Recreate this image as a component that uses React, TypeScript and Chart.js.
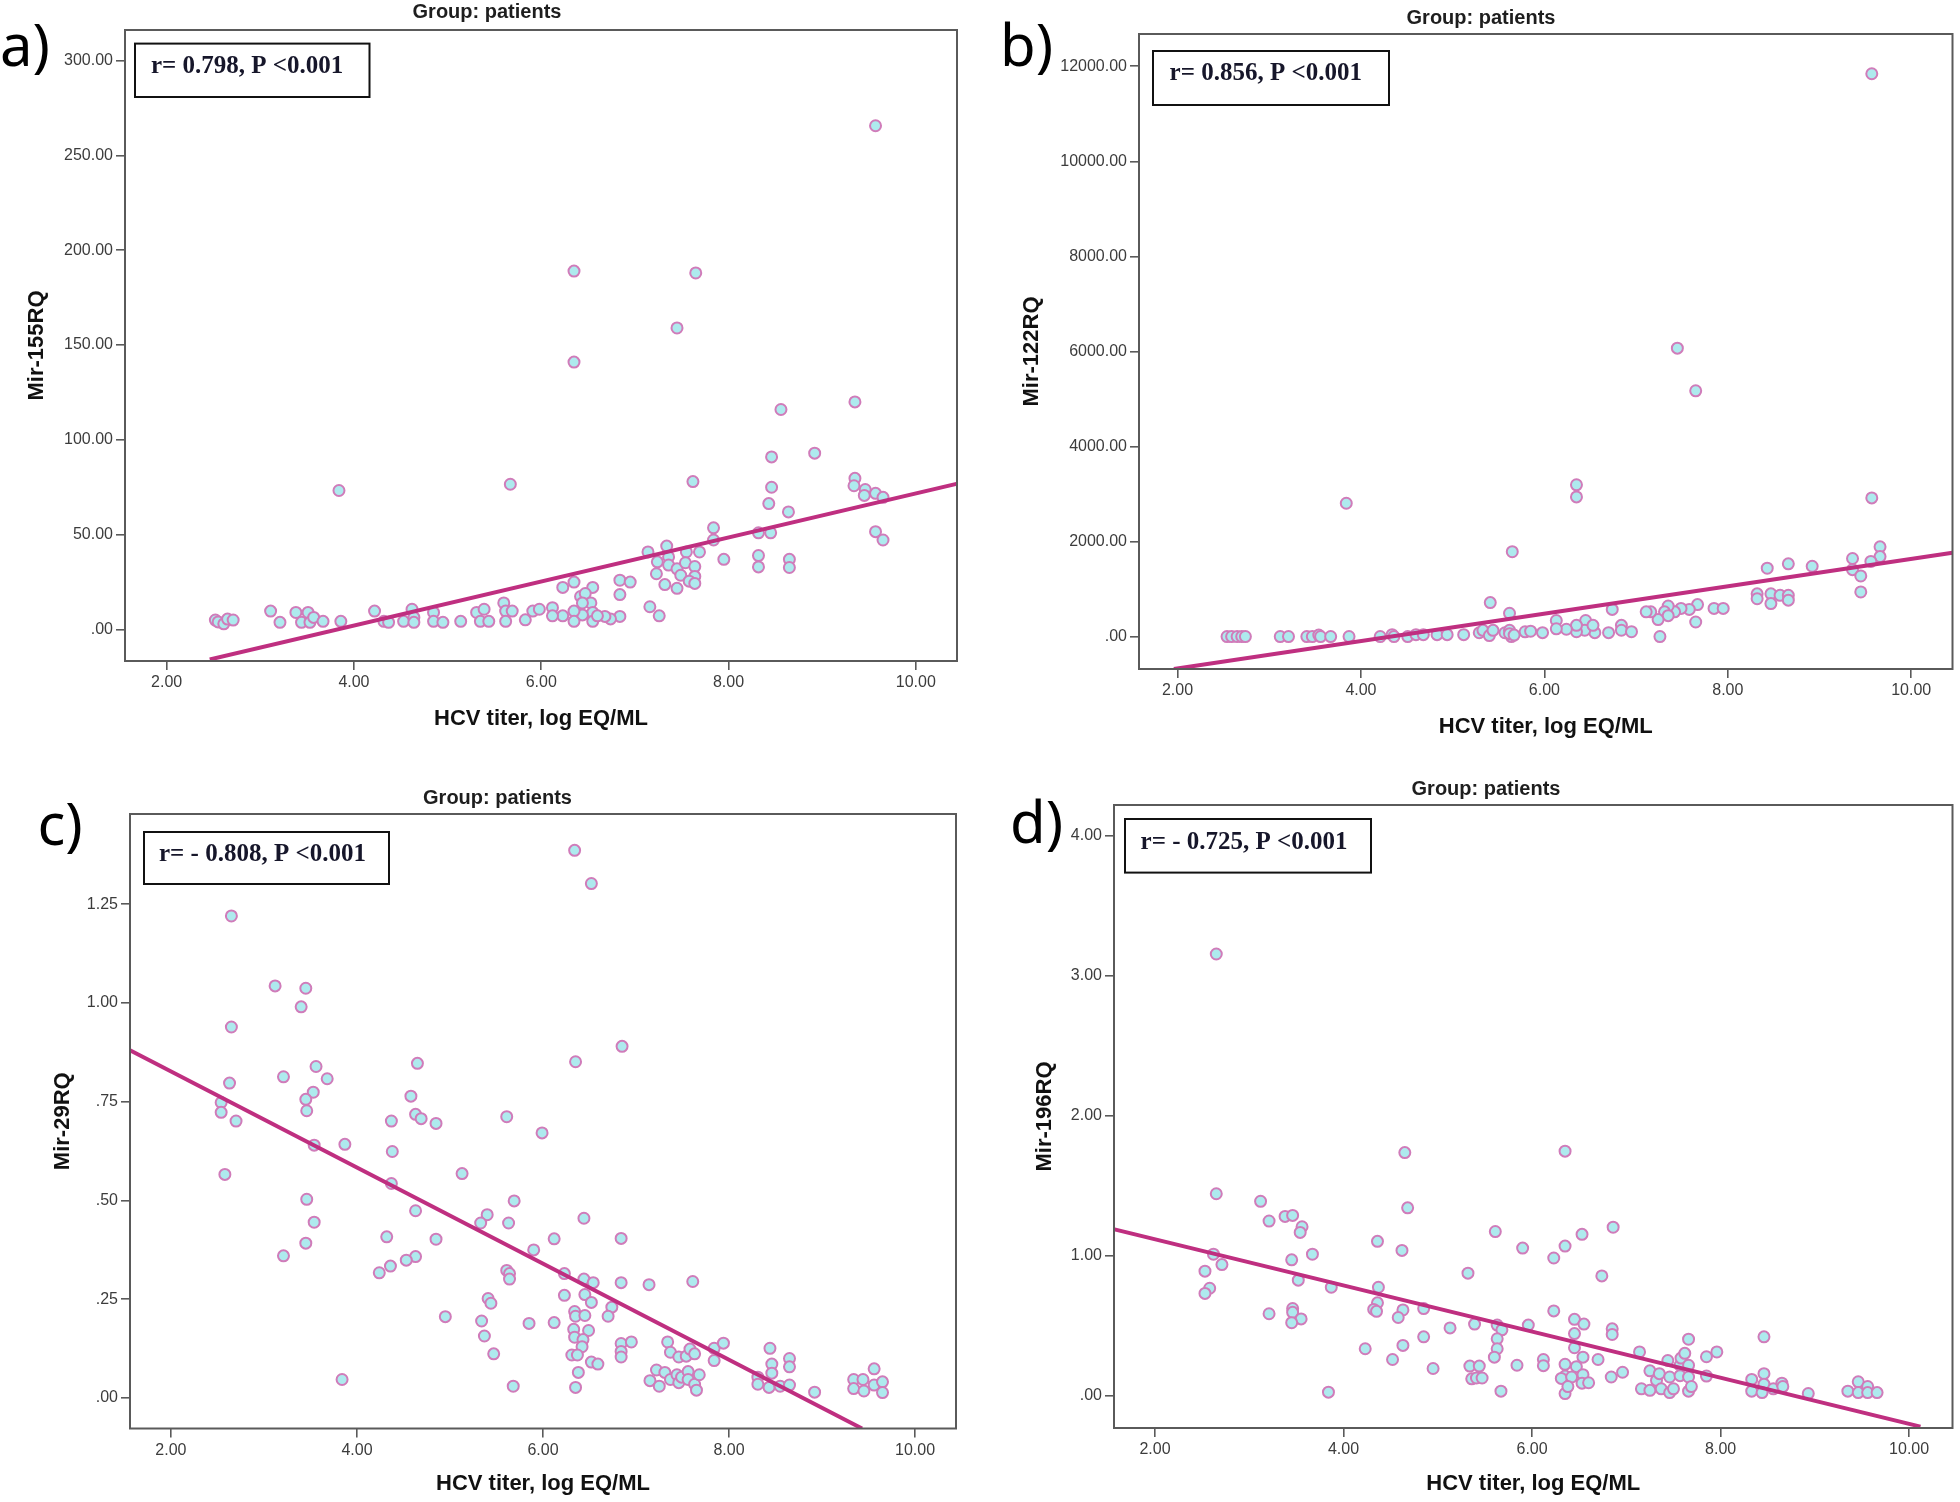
import React, { useEffect, useRef } from 'react';
import { Chart, registerables } from 'chart.js';

Chart.register(...registerables);
Chart.defaults.font.family = '"Liberation Sans", Arial, sans-serif';

// ---------- data ----------
const xTickValues = [2, 4, 6, 8, 10];
const yTicksA = [0, 50, 100, 150, 200, 250, 300];
const yTicksB = [0, 2000, 4000, 6000, 8000, 10000, 12000];
const yTicksC = [0, 0.25, 0.5, 0.75, 1.0, 1.25];
const yTicksD = [0, 1, 2, 3, 4];

const xTitle = 'HCV titer, log EQ/ML';
const groupTitle = 'Group: patients';
const panelLabels = ['a)', 'b)', 'c)', 'd)'];
const yTitles = ['Mir-155RQ', 'Mir-122RQ', 'Mir-29RQ', 'Mir-196RQ'];
const statTexts = ['r= 0.798, P <0.001', 'r= 0.856, P <0.001', 'r= - 0.808, P <0.001', 'r= - 0.725, P <0.001'];

// [HCV titer, Mir-155RQ]
const mir155Points: [number, number][] = [
  [3.84, 73.3], [5.67, 76.6], [2.52, 5], [2.55, 4], [2.61, 3], [2.65, 5.5], [2.71, 5],
  [3.11, 9.7], [3.21, 3.8], [3.38, 9], [3.44, 3.8], [3.51, 9], [3.53, 3.8], [3.57, 6.4],
  [3.67, 4.3], [3.86, 4.3], [4.22, 9.7], [4.32, 4.3], [4.37, 3.8], [4.53, 4.3], [4.62, 10.7],
  [4.64, 6.4], [4.64, 3.8], [4.85, 9], [4.85, 4.3], [4.95, 3.8], [5.14, 4.3], [5.31, 9],
  [5.39, 10.7], [5.35, 4.3], [5.44, 4.3], [5.6, 14], [5.62, 9.7], [5.69, 9.7], [5.62, 4.3],
  [5.83, 5.1], [5.91, 9.7], [5.98, 10.7],
  [9.57, 265.6], [6.35, 189], [7.65, 188], [7.45, 159], [6.35, 141], [9.35, 120], [8.56, 116],
  [8.92, 93], [8.46, 91], [7.62, 78], [8.46, 75], [9.35, 79.7], [9.34, 75.8], [9.46, 73.8],
  [9.45, 70.7], [9.57, 71.8], [9.65, 69.7], [8.43, 66.4], [8.64, 62], [9.57, 51.6], [9.65, 47.2],
  [7.84, 53.6], [7.84, 47.2], [8.32, 51], [8.45, 51], [8.32, 39], [8.32, 33], [8.65, 37],
  [8.65, 32.7], [7.95, 37], [7.14, 40.9], [7.34, 44], [7.55, 40.9], [7.69, 40.9], [7.24, 35.7],
  [7.36, 38.3], [7.36, 34], [7.45, 32], [7.54, 35.2], [7.64, 33.2], [7.64, 28], [7.49, 28.6],
  [7.58, 25.5], [7.64, 24.3], [7.23, 29.4], [7.32, 23.7], [7.45, 21.7], [7.16, 12], [7.26, 7.2],
  [6.84, 26], [6.95, 25], [6.84, 18.4], [6.84, 6.9], [6.74, 5.6], [6.68, 6.9], [6.35, 25],
  [6.23, 22.2], [6.55, 22.2], [6.42, 17.4], [6.47, 19], [6.53, 14], [6.44, 14], [6.55, 9],
  [6.44, 7.7], [6.35, 9.7], [6.35, 4.3], [6.55, 4.3], [6.23, 7.2], [6.12, 11.5], [6.12, 7.2],
  [6.6, 7.2]
];

// [HCV titer, Mir-122RQ]
const mir122Points: [number, number][] = [
  [3.84, 2805], [5.65, 1785], [5.41, 714], [5.62, 490],
  [2.54, 0], [2.59, 0], [2.65, 0], [2.7, 0], [2.74, 0], [3.12, 0], [3.21, 0], [3.41, 0],
  [3.47, 0], [3.54, 30], [3.56, 0], [3.67, 0], [3.87, 0], [4.21, 0], [4.34, 40], [4.36, 0],
  [4.51, 0], [4.6, 40], [4.68, 40], [4.83, 40], [4.94, 40], [5.12, 40], [5.29, 80], [5.33, 130],
  [5.4, 20], [5.44, 130], [5.57, 80], [5.62, 130], [5.64, 0], [5.79, 100], [5.62, 60], [5.67, 30],
  [9.57, 11842], [7.45, 6069], [7.65, 5171], [6.35, 3193], [6.35, 2938], [9.57, 2917],
  [9.66, 1887], [9.66, 1683], [9.56, 1581], [9.36, 1642], [9.36, 1408], [9.45, 1275],
  [9.45, 938], [8.92, 1479], [8.66, 1530], [8.43, 1438], [8.32, 898], [8.32, 796], [8.47, 898],
  [8.47, 694], [8.57, 867], [8.66, 867], [8.66, 765], [7.85, 592], [7.95, 592], [7.67, 673],
  [7.58, 571], [7.49, 592], [7.42, 520], [7.35, 643], [7.31, 520], [7.35, 439], [7.24, 357],
  [7.16, 520], [7.11, 520], [7.65, 306], [7.26, 0], [6.74, 571], [6.84, 235], [6.84, 133],
  [6.95, 102], [6.7, 82], [6.55, 82], [6.45, 337], [6.44, 133], [6.35, 102], [6.35, 235],
  [6.24, 153], [6.13, 337], [6.13, 163], [5.98, 82], [5.85, 112], [6.53, 235]
];

// [HCV titer, Mir-29RQ]
const mir29Points: [number, number][] = [
  [2.65, 1.22], [3.12, 1.043], [3.45, 1.037], [3.4, 0.99], [2.65, 0.939], [4.65, 0.847],
  [3.56, 0.839], [3.21, 0.813], [3.68, 0.808], [2.63, 0.797], [3.53, 0.774], [4.58, 0.764],
  [3.45, 0.756], [2.54, 0.748], [3.46, 0.727], [2.54, 0.723], [4.63, 0.718], [4.69, 0.707],
  [4.37, 0.701], [2.7, 0.701], [4.85, 0.695], [5.61, 0.712], [5.99, 0.671], [3.54, 0.64],
  [3.87, 0.642], [4.38, 0.624], [2.58, 0.566], [5.13, 0.568], [4.37, 0.543], [3.46, 0.503],
  [5.69, 0.499], [4.63, 0.474], [5.4, 0.464], [3.54, 0.445], [5.33, 0.443], [5.63, 0.443],
  [4.32, 0.408], [4.85, 0.402], [6.12, 0.403], [5.9, 0.375], [3.45, 0.392], [3.21, 0.36],
  [4.63, 0.358], [4.53, 0.349], [4.36, 0.334], [4.24, 0.317], [5.61, 0.323], [5.64, 0.315],
  [5.64, 0.301], [5.41, 0.252], [5.44, 0.24], [4.95, 0.206], [5.34, 0.195], [5.85, 0.189],
  [6.12, 0.191], [5.37, 0.157], [5.47, 0.112], [3.84, 0.047], [5.68, 0.03],
  [6.34, 1.386], [6.52, 1.302], [6.85, 0.89], [6.35, 0.851], [6.44, 0.455], [6.84, 0.404],
  [6.23, 0.315], [6.44, 0.301], [6.54, 0.292], [6.84, 0.292], [7.14, 0.287], [7.61, 0.295],
  [6.23, 0.26], [6.45, 0.262], [6.52, 0.242], [6.74, 0.23], [6.7, 0.207], [6.34, 0.219],
  [6.35, 0.207], [6.45, 0.209], [6.33, 0.174], [6.49, 0.171], [6.34, 0.154], [6.43, 0.148],
  [6.42, 0.13], [6.31, 0.109], [6.37, 0.109], [6.52, 0.091], [6.59, 0.086], [6.38, 0.065],
  [6.35, 0.027], [6.84, 0.138], [6.84, 0.118], [6.84, 0.104], [6.95, 0.142], [7.34, 0.142],
  [7.37, 0.116], [7.46, 0.104], [7.54, 0.106], [7.58, 0.124], [7.63, 0.112], [7.84, 0.126],
  [7.84, 0.095], [7.94, 0.139], [7.22, 0.071], [7.15, 0.044], [7.25, 0.03], [7.31, 0.065],
  [7.37, 0.047], [7.44, 0.059], [7.46, 0.039], [7.49, 0.053], [7.56, 0.067], [7.56, 0.047],
  [7.63, 0.035], [7.65, 0.02], [7.68, 0.059], [8.44, 0.126], [8.46, 0.086], [8.46, 0.063],
  [8.65, 0.1], [8.65, 0.079], [8.31, 0.053], [8.31, 0.035], [8.43, 0.027], [8.55, 0.03],
  [8.65, 0.033], [8.92, 0.015], [9.34, 0.047], [9.34, 0.024], [9.44, 0.047], [9.45, 0.018],
  [9.56, 0.074], [9.56, 0.033], [9.65, 0.041], [9.65, 0.014]
];

// [HCV titer, Mir-196RQ]
const mir196Points: [number, number][] = [
  [2.65, 3.156], [4.65, 1.738], [2.65, 1.444], [3.12, 1.39], [4.68, 1.343], [3.21, 1.249],
  [3.38, 1.282], [3.46, 1.289], [3.56, 1.208], [3.54, 1.168], [5.61, 1.174], [5.9, 1.056],
  [4.36, 1.104], [4.62, 1.039], [3.67, 1.012], [2.62, 1.012], [3.45, 0.972], [2.71, 0.938],
  [2.53, 0.891], [5.32, 0.877], [3.52, 0.827], [2.58, 0.769], [3.87, 0.776], [4.37, 0.776],
  [2.53, 0.732], [4.36, 0.665], [4.32, 0.618], [4.35, 0.604], [3.46, 0.624], [3.46, 0.597],
  [4.63, 0.614], [4.85, 0.624], [3.21, 0.587], [3.55, 0.55], [4.58, 0.56], [3.45, 0.523],
  [5.39, 0.513], [5.13, 0.486], [5.63, 0.506], [5.68, 0.472], [5.96, 0.506], [4.85, 0.422],
  [5.63, 0.408], [5.63, 0.337], [4.63, 0.361], [4.23, 0.337], [5.6, 0.277], [4.52, 0.26],
  [4.95, 0.196], [5.34, 0.213], [5.44, 0.213], [5.84, 0.219], [5.36, 0.122], [5.41, 0.128],
  [5.47, 0.128], [3.84, 0.027], [5.67, 0.034],
  [6.35, 1.748], [6.86, 1.205], [6.53, 1.154], [6.35, 1.07], [6.23, 0.985], [6.74, 0.857],
  [6.23, 0.607], [6.45, 0.547], [6.55, 0.513], [6.45, 0.445], [6.45, 0.344], [6.85, 0.479],
  [6.85, 0.439], [6.54, 0.277], [6.7, 0.26], [6.12, 0.26], [6.12, 0.216], [6.35, 0.226],
  [6.35, 0.142], [6.31, 0.125], [6.35, 0.017], [6.47, 0.209], [6.42, 0.135], [6.54, 0.152],
  [6.53, 0.091], [6.6, 0.094], [6.38, 0.067], [6.84, 0.135], [6.96, 0.169], [7.14, 0.314],
  [7.25, 0.179], [7.32, 0.111], [7.35, 0.159], [7.16, 0.051], [7.25, 0.04], [7.37, 0.051],
  [7.44, 0.253], [7.46, 0.135], [7.46, 0.024], [7.5, 0.051], [7.57, 0.219], [7.58, 0.27],
  [7.62, 0.304], [7.57, 0.145], [7.66, 0.405], [7.66, 0.219], [7.66, 0.135], [7.66, 0.034],
  [7.69, 0.067], [7.85, 0.28], [7.96, 0.314], [7.85, 0.142], [8.46, 0.422], [8.46, 0.159],
  [8.46, 0.084], [8.33, 0.118], [8.33, 0.034], [8.44, 0.024], [8.56, 0.051], [8.65, 0.091],
  [8.66, 0.067], [8.93, 0.017], [9.35, 0.034], [9.46, 0.101], [9.46, 0.024], [9.56, 0.067],
  [9.56, 0.024], [9.66, 0.024]
];

// fit line end points [x, y]
const fitLineA: [number, number][] = [[2.46, -15.8], [10.45, 77.0]];
const fitLineB: [number, number][] = [[1.96, -683], [10.45, 1765]];
const fitLineC: [number, number][] = [[1.56, 0.88], [9.43, -0.077]];
const fitLineD: [number, number][] = [[1.56, 1.191], [10.12, -0.219]];

// ---------- styles ----------
const POINT_FILL = '#aeeaee';
const POINT_EDGE = '#d07cba';
const LINE_COLOR = '#bf2f80';
const AXIS_COLOR = '#5a5a5a';
const TICK_TEXT = '#3c3c3c';

const fmt = (v: number) => v.toFixed(2).replace(/^0\./, '.');

type Panel = {
  left: number; top: number; w: number; h: number;
  padTop: number; padRight: number; yAxisW: number; xAxisH: number;
  xMin: number; xMax: number; yMin: number; yMax: number;
  yTicks: number[]; points: [number, number][]; line: [number, number][];
  yTitle: string; yTitlePad: number; xTitlePad: number;
  label: string; labelX: number; labelY: number;
  titleX: number; titleY: number;
  box: [number, number, number, number]; stat: string; statX: number; statY: number;
};

const panels: Panel[] = [
  {
    left: 0, top: 0, w: 980, h: 750, padTop: 30, padRight: 23, yAxisW: 125, xAxisH: 89,
    xMin: 1.555, xMax: 10.44, yMin: -16.6, yMax: 316.1, yTicks: yTicksA,
    points: mir155Points, line: fitLineA, yTitle: yTitles[0], yTitlePad: 23.8, xTitlePad: 17.8,
    label: panelLabels[0], labelX: 0, labelY: 65.5, titleX: 487, titleY: 12,
    box: [135, 43.6, 234.5, 53.4], stat: statTexts[0], statX: 151, statY: 73
  },
  {
    left: 980, top: 0, w: 980, h: 750, padTop: 34, padRight: 6, yAxisW: 159, xAxisH: 81,
    xMin: 1.58, xMax: 10.45, yMin: -683, yMax: 12679, yTicks: yTicksB,
    points: mir122Points, line: fitLineB, yTitle: yTitles[1], yTitlePad: 38.8, xTitlePad: 9.8,
    label: panelLabels[1], labelX: 20, labelY: 65.5, titleX: 501, titleY: 18,
    box: [173, 51, 236, 54], stat: statTexts[1], statX: 189.6, statY: 80
  },
  {
    left: 0, top: 750, w: 980, h: 752, padTop: 64, padRight: 24, yAxisW: 130, xAxisH: 73.5,
    xMin: 1.56, xMax: 10.44, yMin: -0.077, yMax: 1.478, yTicks: yTicksC,
    points: mir29Points, line: fitLineC, yTitle: yTitles[2], yTitlePad: 49.3, xTitlePad: 4.8,
    label: panelLabels[2], labelX: 37.5, labelY: 95, titleX: 497.5, titleY: 48,
    box: [144, 82, 245, 52], stat: statTexts[2], statX: 159, statY: 111
  },
  {
    left: 980, top: 750, w: 980, h: 752, padTop: 55, padRight: 6, yAxisW: 134, xAxisH: 74,
    xMin: 1.565, xMax: 10.46, yMin: -0.229, yMax: 4.22, yTicks: yTicksD,
    points: mir196Points, line: fitLineD, yTitle: yTitles[3], yTitlePad: 51.8, xTitlePad: 4.8,
    label: panelLabels[3], labelX: 30, labelY: 92.8, titleX: 506, titleY: 39,
    box: [145, 69, 246, 53.6], stat: statTexts[3], statX: 160.6, statY: 99
  }
];

function extrasPlugin(p: Panel) {
  return {
    id: 'panelExtras',
    afterDraw(chart: any) {
      const ctx = chart.ctx;
      const a = chart.chartArea;
      ctx.save();
      // frame
      ctx.strokeStyle = AXIS_COLOR;
      ctx.lineWidth = 2;
      ctx.strokeRect(a.left, a.top, a.right - a.left, a.bottom - a.top);
      // panel label
      ctx.fillStyle = '#000';
      ctx.textAlign = 'left';
      ctx.textBaseline = 'alphabetic';
      ctx.font = '58px "Noto Sans", "Open Sans", sans-serif';
      ctx.fillText(p.label, p.labelX, p.labelY);
      // group title
      ctx.fillStyle = '#1e1e1e';
      ctx.textAlign = 'center';
      ctx.textBaseline = 'middle';
      ctx.font = 'bold 20px "Liberation Sans", Arial, sans-serif';
      ctx.fillText(groupTitle, p.titleX, p.titleY);
      // stat box
      const [bx, by, bw, bh] = p.box;
      ctx.fillStyle = '#fff';
      ctx.fillRect(bx, by, bw, bh);
      ctx.strokeStyle = '#111';
      ctx.lineWidth = 2;
      ctx.strokeRect(bx, by, bw, bh);
      ctx.fillStyle = '#16162a';
      ctx.textAlign = 'left';
      ctx.textBaseline = 'alphabetic';
      ctx.font = 'bold 25px "Liberation Serif", "Times New Roman", serif';
      ctx.fillText(p.stat, p.statX, p.statY);
      ctx.restore();
    }
  };
}

function ScatterPanel({ p }: { p: Panel }) {
  const ref = useRef<HTMLCanvasElement | null>(null);
  useEffect(() => {
    if (!ref.current) return;
    const chart = new Chart(ref.current, {
      type: 'scatter',
      data: {
        datasets: [
          {
            type: 'line',
            data: p.line.map(([x, y]) => ({ x, y })),
            borderColor: LINE_COLOR,
            borderWidth: 4,
            pointRadius: 0,
            fill: false,
            tension: 0
          } as any,
          {
            type: 'scatter',
            data: p.points.map(([x, y]) => ({ x, y })),
            pointRadius: 5.5,
            pointBackgroundColor: POINT_FILL,
            pointBorderColor: POINT_EDGE,
            pointBorderWidth: 2
          } as any
        ]
      },
      options: {
        responsive: false,
        animation: false,
        devicePixelRatio: 1,
        layout: { padding: { left: 0, top: p.padTop, right: p.padRight, bottom: 0 } },
        plugins: { legend: { display: false }, tooltip: { enabled: false }, title: { display: false } },
        scales: {
          x: {
            type: 'linear',
            position: 'bottom',
            min: p.xMin,
            max: p.xMax,
            afterBuildTicks: (s: any) => { s.ticks = xTickValues.map((v) => ({ value: v })); },
            afterFit: (s: any) => { s.height = p.xAxisH; },
            ticks: {
              callback: (v: any) => fmt(Number(v)),
              color: TICK_TEXT,
              font: { size: 16 },
              padding: 3,
              maxRotation: 0,
              autoSkip: false
            },
            grid: { drawOnChartArea: false, drawTicks: true, tickLength: 9, color: AXIS_COLOR, lineWidth: 1.6 },
            border: { display: false },
            title: {
              display: true,
              text: xTitle,
              color: '#111',
              font: { size: 22, weight: 'bold' },
              padding: { top: p.xTitlePad, bottom: p.xTitlePad }
            }
          },
          y: {
            type: 'linear',
            position: 'left',
            min: p.yMin,
            max: p.yMax,
            afterBuildTicks: (s: any) => { s.ticks = p.yTicks.map((v) => ({ value: v })); },
            afterFit: (s: any) => { s.width = p.yAxisW; },
            ticks: {
              callback: (v: any) => fmt(Number(v)),
              color: TICK_TEXT,
              font: { size: 16 },
              padding: 3,
              autoSkip: false
            },
            grid: { drawOnChartArea: false, drawTicks: true, tickLength: 9, color: AXIS_COLOR, lineWidth: 1.6 },
            border: { display: false },
            title: {
              display: true,
              text: p.yTitle,
              color: '#111',
              font: { size: 22, weight: 'bold' },
              padding: { top: p.yTitlePad, bottom: 0 }
            }
          }
        }
      } as any,
      plugins: [extrasPlugin(p)]
    });
    return () => chart.destroy();
  }, [p]);

  return (
    <div style={{ position: 'absolute', left: p.left, top: p.top, width: p.w, height: p.h }}>
      <canvas ref={ref} width={p.w} height={p.h} style={{ width: p.w, height: p.h, display: 'block' }} />
    </div>
  );
}

export default function App() {
  return (
    <div style={{ position: 'absolute', left: 0, top: 0, width: 1960, height: 1502, background: '#fff', overflow: 'hidden' }}>
      {panels.map((p, i) => (
        <ScatterPanel key={i} p={p} />
      ))}
    </div>
  );
}
